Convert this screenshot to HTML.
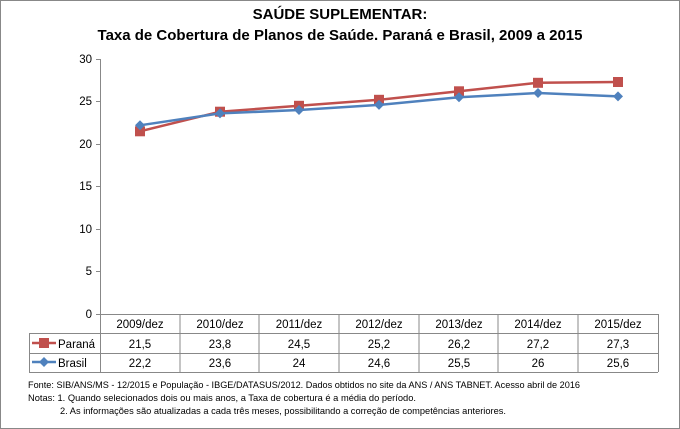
<!DOCTYPE html>
<html><head><meta charset="utf-8"><style>
body{margin:0;background:#fff}
svg{display:block;font-family:"Liberation Sans",sans-serif}
</style></head><body>
<svg width="680" height="429" viewBox="0 0 680 429" xmlns="http://www.w3.org/2000/svg">
<rect x="0.5" y="0.5" width="679" height="428" fill="#fff" stroke="#888"/>
<text x="340" y="19" text-anchor="middle" font-size="15" font-weight="bold">SAÚDE SUPLEMENTAR:</text>
<text x="340" y="40" text-anchor="middle" font-size="15" font-weight="bold">Taxa de Cobertura de Planos de Saúde. Paraná e Brasil, 2009 a 2015</text>
<g font-size="11.5" text-anchor="end" fill="#000">
<text x="92" y="63">30</text><text x="92" y="105">25</text><text x="92" y="148">20</text>
<text x="92" y="190">15</text><text x="92" y="233">10</text><text x="92" y="275">5</text><text x="92" y="318">0</text>
</g>
<g stroke="#888" stroke-width="1">
<line x1="100.5" y1="59" x2="100.5" y2="372"/>
<line x1="96" y1="59.5" x2="100" y2="59.5"/><line x1="96" y1="101.5" x2="100" y2="101.5"/>
<line x1="96" y1="144.5" x2="100" y2="144.5"/><line x1="96" y1="186.5" x2="100" y2="186.5"/>
<line x1="96" y1="229.5" x2="100" y2="229.5"/><line x1="96" y1="271.5" x2="100" y2="271.5"/>
<line x1="96" y1="314.5" x2="658" y2="314.5"/>
<line x1="29" y1="333.5" x2="658" y2="333.5"/>
<line x1="29" y1="353.5" x2="658" y2="353.5"/>
<line x1="29" y1="372.5" x2="658" y2="372.5"/>
<line x1="29.5" y1="333" x2="29.5" y2="372"/>
<line x1="658.5" y1="314" x2="658.5" y2="372"/>
<line x1="180" y1="314" x2="180" y2="372"/><line x1="259" y1="314" x2="259" y2="372"/>
<line x1="339" y1="314" x2="339" y2="372"/><line x1="419" y1="314" x2="419" y2="372"/>
<line x1="498" y1="314" x2="498" y2="372"/><line x1="578" y1="314" x2="578" y2="372"/>
</g>
<polyline fill="none" stroke="#c0504d" stroke-width="2.5" points="140,131.3 220,111.7 299,105.8 379,99.8 459,91.3 538,82.8 618,82"/>
<g fill="#c0504d">
<rect x="135" y="126.3" width="10" height="10"/><rect x="215" y="106.7" width="10" height="10"/>
<rect x="294" y="100.8" width="10" height="10"/><rect x="374" y="94.8" width="10" height="10"/>
<rect x="454" y="86.3" width="10" height="10"/><rect x="533" y="77.8" width="10" height="10"/>
<rect x="613" y="77" width="10" height="10"/>
</g>
<polyline fill="none" stroke="#4f81bd" stroke-width="2.5" points="140,125.3 220,113.4 299,110 379,104.9 459,97.3 538,93 618,96.4"/>
<g fill="#4f81bd">
<path d="M140 120.3l5 5-5 5-5-5z"/><path d="M220 108.4l5 5-5 5-5-5z"/><path d="M299 105l5 5-5 5-5-5z"/>
<path d="M379 99.9l5 5-5 5-5-5z"/><path d="M459 92.3l5 5-5 5-5-5z"/><path d="M538 88l5 5-5 5-5-5z"/>
<path d="M618 91.4l5 5-5 5-5-5z"/>
</g>
<g font-size="11.5" text-anchor="middle">
<text x="140" y="328">2009/dez</text><text x="220" y="328">2010/dez</text><text x="299" y="328">2011/dez</text>
<text x="379" y="328">2012/dez</text><text x="459" y="328">2013/dez</text><text x="538" y="328">2014/dez</text><text x="618" y="328">2015/dez</text>
<text x="140" y="348">21,5</text><text x="220" y="348">23,8</text><text x="299" y="348">24,5</text>
<text x="379" y="348">25,2</text><text x="459" y="348">26,2</text><text x="538" y="348">27,2</text><text x="618" y="348">27,3</text>
<text x="140" y="367">22,2</text><text x="220" y="367">23,6</text><text x="299" y="367">24</text>
<text x="379" y="367">24,6</text><text x="459" y="367">25,5</text><text x="538" y="367">26</text><text x="618" y="367">25,6</text>
</g>
<line x1="32" y1="343" x2="56" y2="343" stroke="#c0504d" stroke-width="2.5"/><rect x="39" y="338" width="10" height="10" fill="#c0504d"/>
<line x1="32" y1="362" x2="56" y2="362" stroke="#4f81bd" stroke-width="2.5"/><path d="M44 357l5 5-5 5-5-5z" fill="#4f81bd"/>
<text x="58" y="348" font-size="11.5">Paraná</text>
<text x="58" y="367" font-size="11.5">Brasil</text>
<g font-size="9.3">
<text x="28" y="388" textLength="552" lengthAdjust="spacingAndGlyphs">Fonte:  SIB/ANS/MS - 12/2015 e População - IBGE/DATASUS/2012. Dados obtidos no site da ANS / ANS TABNET. Acesso abril de 2016</text>
<text x="28" y="401" textLength="388" lengthAdjust="spacingAndGlyphs">Notas: 1. Quando selecionados dois ou mais anos, a Taxa de cobertura é a média do período.</text>
<text x="60" y="414" textLength="446" lengthAdjust="spacingAndGlyphs">2. As informações são atualizadas a cada três meses, possibilitando a correção de competências anteriores.</text>
</g>
</svg>
</body></html>
